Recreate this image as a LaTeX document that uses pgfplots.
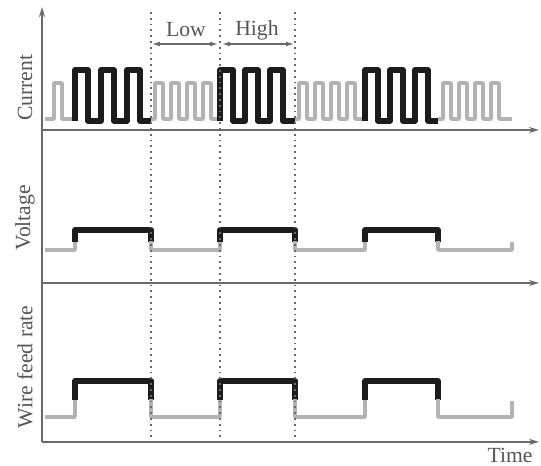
\documentclass[border=0pt]{standalone}
\usepackage{fontspec}
\setmainfont{Liberation Serif}
\usepackage{pgfplots}
\pgfplotsset{compat=1.18}
\usetikzlibrary{arrows.meta}
\definecolor{wgray}{HTML}{B3B3B3}
\definecolor{wblack}{HTML}{1C1C1C}
\definecolor{axgray}{HTML}{6A6A6A}
\definecolor{txtgray}{HTML}{555555}
\tikzset{
  gw/.style={wgray, line width=1.9pt, line join=round},
  bw/.style={wblack, line width=2.6pt, line join=round},
  axl/.style={axgray, line width=1pt},
  tip/.style={-{Stealth[length=5pt,width=3pt]}},
  lbl/.style={text=txtgray, font=\fontsize{10.8}{13}\selectfont, inner sep=0pt},
  dotl/.style={axgray, line width=0.85pt, dash pattern=on 0.9pt off 2pt},
}
\begin{document}
\begin{tikzpicture}
\begin{axis}[
  width=270.5pt, height=233pt, scale only axis,
  xmin=0, xmax=541, ymin=0, ymax=466, y dir=reverse,
  hide axis, clip=false,
]
\path (axis cs:0,0) rectangle (axis cs:541,466);
% ---------- Current ----------
\addplot[gw] coordinates {(45,119)(54,119)(54,83)(62,83)(62,119)(75,119)};
\addplot[bw] coordinates {(75,121)(75,70)(88,70)(88,121)(101,121)(101,70)(114,70)(114,121)(127,121)(127,70)(140,70)(140,121)(151,121)};
\addplot[gw] coordinates {(151,119)(155,119)(155,83)(163,83)(163,119)(171,119)(171,83)(179,83)(179,119)(187,119)(187,83)(195,83)(195,119)(203,119)(203,83)(211,83)(211,119)(220,119)};
\addplot[bw] coordinates {(220,121)(220,70)(233,70)(233,121)(245,121)(245,70)(258,70)(258,121)(270,121)(270,70)(283,70)(283,121)(295,121)};
\addplot[gw] coordinates {(295,119)(299,119)(299,83)(307,83)(307,119)(315,119)(315,83)(323,83)(323,119)(331,119)(331,83)(339,83)(339,119)(347,119)(347,83)(355,83)(355,119)(365,119)};
\addplot[bw] coordinates {(365,121)(365,70)(378,70)(378,121)(390,121)(390,70)(403,70)(403,121)(415,121)(415,70)(428,70)(428,121)(438,121)};
\addplot[gw] coordinates {(438,119)(443,119)(443,83)(451,83)(451,119)(459,119)(459,83)(467,83)(467,119)(475,119)(475,83)(483,83)(483,119)(491,119)(491,83)(499,83)(499,119)(512,119)};
% ---------- Voltage ----------
\addplot[gw] coordinates {(45,250)(75,250)(75,241)};
\addplot[bw] coordinates {(75,242)(75,230)(151,230)(151,242)};
\addplot[gw] coordinates {(151,241)(151,250)(220,250)(220,241)};
\addplot[bw] coordinates {(220,242)(220,230)(295,230)(295,242)};
\addplot[gw] coordinates {(295,241)(295,250)(365,250)(365,241)};
\addplot[bw] coordinates {(365,242)(365,230)(438,230)(438,242)};
\addplot[gw] coordinates {(438,241)(438,250)(512,250)(512,242)};
% ---------- Wire feed rate ----------
\addplot[gw] coordinates {(45,417)(75,417)(75,399)};
\addplot[bw] coordinates {(75,400)(75,381)(151,381)(151,400)};
\addplot[gw] coordinates {(151,399)(151,417)(220,417)(220,399)};
\addplot[bw] coordinates {(220,400)(220,381)(295,381)(295,400)};
\addplot[gw] coordinates {(295,399)(295,417)(365,417)(365,399)};
\addplot[bw] coordinates {(365,400)(365,381)(438,381)(438,400)};
\addplot[gw] coordinates {(438,399)(438,417)(512,417)(512,401)};
% ---------- axes ----------
\draw[axl, tip] (axis cs:42,442) -- (axis cs:42,7);
\draw[axl, tip] (axis cs:42,130) -- (axis cs:539,130);
\draw[axl, tip] (axis cs:42,283) -- (axis cs:539,283);
\draw[axl, tip] (axis cs:42,442) -- (axis cs:539,442);
% ---------- dotted phase lines ----------
\draw[dotl] (axis cs:151,12) -- (axis cs:151,437);
\draw[dotl] (axis cs:220,12) -- (axis cs:220,437);
\draw[dotl] (axis cs:295,12) -- (axis cs:295,437);
\draw[axgray, line width=0.55pt, {Latex[length=4pt,width=2.4pt]}-{Latex[length=4pt,width=2.4pt]}] (axis cs:152,44) -- (axis cs:218,44);
\draw[axgray, line width=0.55pt, {Latex[length=4pt,width=2.4pt]}-{Latex[length=4pt,width=2.4pt]}] (axis cs:222,44) -- (axis cs:294,44);
\node[lbl] at (axis cs:186,30) {Low};
\node[lbl] at (axis cs:257,30) {High};
% ---------- labels ----------
\node[lbl, rotate=90] at (axis cs:25,88) {Current};
\node[lbl, rotate=90] at (axis cs:25,218) {Voltage};
\node[lbl, rotate=90] at (axis cs:25,367) {Wire feed rate};
\node[lbl] at (axis cs:510,456) {Time};
\end{axis}
\end{tikzpicture}
\end{document}
